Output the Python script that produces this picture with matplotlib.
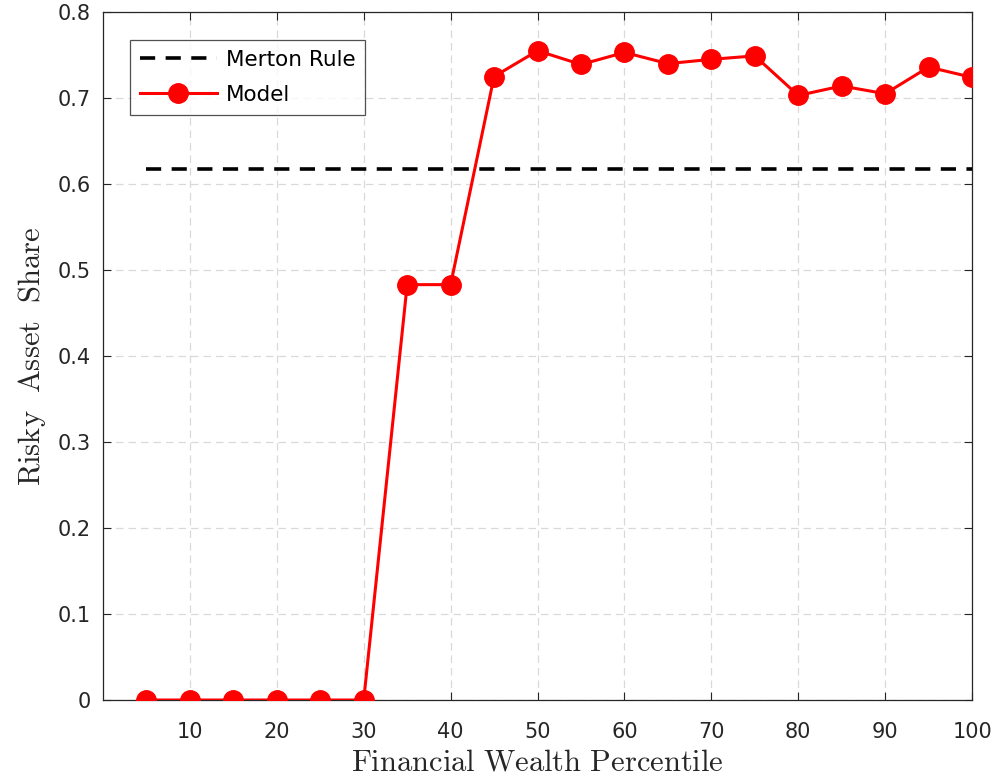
import matplotlib
matplotlib.use("Agg")
import matplotlib.pyplot as plt

percentiles = [5, 10, 15, 20, 25, 30, 35, 40, 45, 50, 55, 60, 65, 70, 75, 80, 85, 90, 95, 100]
model_share = [0, 0, 0, 0, 0, 0, 0.483, 0.483, 0.725, 0.755, 0.739, 0.753, 0.740, 0.745, 0.749,
               0.703, 0.714, 0.705, 0.736, 0.724]
merton_x = [5, 100]
merton_share = [0.618, 0.618]
xticks = [10, 20, 30, 40, 50, 60, 70, 80, 90, 100]
yticks = [0, 0.1, 0.2, 0.3, 0.4, 0.5, 0.6, 0.7, 0.8]
ytick_labels = ["0", "0.1", "0.2", "0.3", "0.4", "0.5", "0.6", "0.7", "0.8"]

plt.rcParams['font.family'] = ['DejaVu Sans']
plt.rcParams['mathtext.fontset'] = 'cm'

fig = plt.figure(figsize=(9.97, 7.81), dpi=100)
ax = fig.add_axes([0.1033, 0.1037, 0.975 - 0.1033, 0.9846 - 0.1037])

ax.plot(merton_x, merton_share, color='black', linestyle=(0, (4.2, 2.9)), linewidth=2.6,
        label='Merton Rule', zorder=3)
ax.plot(percentiles, model_share, color='#ff0000', linewidth=2.2, marker='o', markersize=14,
        label='Model', zorder=4)

ax.set_xlim(0, 100)
ax.set_ylim(0, 0.8)
ax.set_xticks(xticks)
ax.set_yticks(yticks)
ax.set_yticklabels(ytick_labels)
ax.tick_params(direction='in', length=6, width=0.8, labelsize=15, colors='#262626',
               top=True, right=True, pad=9)
ax.tick_params(axis='x', pad=16)
for s in ax.spines.values():
    s.set_color('#262626')
    s.set_linewidth(0.9)

ax.grid(True, color='#d9d9d9', linestyle=(0, (6, 4)), linewidth=0.9)
ax.set_axisbelow(True)

ax.set_xlabel(r'$\mathrm{Financial\ Wealth\ Percentile}$', fontsize=22, color='#262626', labelpad=4)
ax.set_ylabel(r'$\mathrm{Risky\ \ Asset\ \ Share}$', fontsize=22, color='#262626', labelpad=7)

leg = ax.legend(loc='upper left', bbox_to_anchor=(0.031, 0.959), fontsize=15.5, frameon=True,
                fancybox=False, edgecolor='#262626', handlelength=3.6, borderpad=0.45,
                labelspacing=0.7, handletextpad=0.4, borderaxespad=0)
leg.get_frame().set_linewidth(0.9)

fig.savefig('out.png', dpi=100)
